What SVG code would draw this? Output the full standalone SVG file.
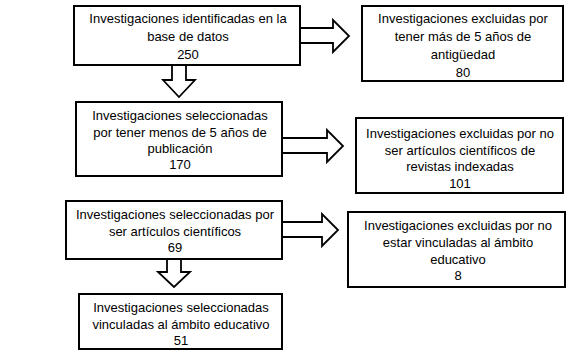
<svg xmlns="http://www.w3.org/2000/svg" width="571" height="352" viewBox="0 0 571 352">
<style>
.box{fill:#fff;stroke:#000;stroke-width:2}
.arr{fill:#fff;stroke:#000;stroke-width:1.8;stroke-linejoin:miter}
text{font-family:"Liberation Sans",Arial,sans-serif;font-size:13px;fill:#000;text-anchor:middle}
</style>
<rect width="571" height="352" fill="#fff"/>
<g id="connectors">
<polygon class="arr" points="300,28 333,28 333,20 349,36 333,52 333,43 300,43"/>
<polygon class="arr" points="172,65 186,65 186,80 195,80 179,97 163,80 172,80"/>
<polygon class="arr" points="282,138 327,138 327,130 343,146 327,162 327,153 282,153"/>
<polygon class="arr" points="282,222 322,222 322,214 338,230 322,246 322,237 282,237"/>
<polygon class="arr" points="167,259 181,259 181,272 190,272 174,287 158,272 167,272"/>
</g>
<g id="n1">
<rect class="box" x="74" y="6" width="226" height="59"/>
<text x="188" y="23">Investigaciones identificadas en la</text>
<text x="188" y="41">base de datos</text>
<text x="188" y="59">250</text>
</g>
<g id="n2">
<rect class="box" x="362" y="6" width="201" height="75"/>
<text x="463" y="23">Investigaciones excluidas por</text>
<text x="463" y="41">tener más de 5 años de</text>
<text x="463" y="59">antigüedad</text>
<text x="463" y="77">80</text>
</g>
<g id="n3">
<rect class="box" x="76" y="102" width="206" height="74"/>
<text x="180" y="120">Investigaciones seleccionadas</text>
<text x="180" y="137">por tener menos de 5 años de</text>
<text x="180" y="153">publicación</text>
<text x="180" y="169">170</text>
</g>
<g id="n4">
<rect class="box" x="356" y="118" width="207" height="75"/>
<text x="460" y="138">Investigaciones excluidas por no</text>
<text x="460" y="155">ser artículos científicos de</text>
<text x="460" y="171">revistas indexadas</text>
<text x="460" y="188">101</text>
</g>
<g id="n5">
<rect class="box" x="66" y="201" width="216" height="58"/>
<text x="175" y="219">Investigaciones seleccionadas por</text>
<text x="175" y="236">ser artículos científicos</text>
<text x="175" y="252">69</text>
</g>
<g id="n6">
<rect class="box" x="348" y="212" width="217" height="75"/>
<text x="458" y="230">Investigaciones excluidas por no</text>
<text x="458" y="247">estar vinculadas al ámbito</text>
<text x="458" y="264">educativo</text>
<text x="458" y="280">8</text>
</g>
<g id="n7">
<rect class="box" x="79" y="294" width="203" height="55"/>
<text x="181" y="312">Investigaciones seleccionadas</text>
<text x="181" y="329">vinculadas al ámbito educativo</text>
<text x="181" y="345">51</text>
</g>
</svg>
